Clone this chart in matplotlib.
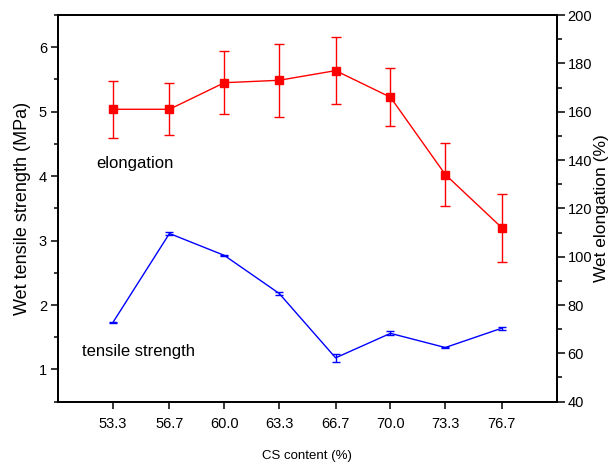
import matplotlib
matplotlib.use("Agg")
import matplotlib.pyplot as plt
from matplotlib.ticker import MultipleLocator

plt.rcParams['font.family'] = ['Liberation Sans', 'DejaVu Sans']

# CS content (%)
cs_content = [53.3, 56.7, 60.0, 63.3, 66.7, 70.0, 73.3, 76.7]

# wet tensile strength (MPa), left axis
strength = [1.73, 3.11, 2.77, 2.18, 1.18, 1.56, 1.34, 1.64]
strength_err = [0.012, 0.03, 0.012, 0.025, 0.06, 0.03, 0.008, 0.025]

# wet elongation (%), right axis
elongation = [161, 161, 172, 173, 177, 166, 134, 112]
elongation_err = [11.8, 10.8, 13.0, 15.0, 14.0, 12.0, 13.0, 14.0]

fig = plt.figure(figsize=(6.12, 4.63), dpi=100)
ax = fig.add_axes([0.095, 0.1325, 0.8145, 0.835])
ax2 = ax.twinx()

ax.errorbar(cs_content, strength, yerr=strength_err, color='#0000FF',
            linewidth=1, elinewidth=1, capsize=3, capthick=1)
ax2.errorbar(cs_content, elongation, yerr=elongation_err, color='#FF0000',
             linewidth=1, elinewidth=1, capsize=3.5, capthick=1,
             marker='s', markersize=6)

ax.set_xlim(50, 80)
ax.set_xticks(cs_content)
ax.set_xticklabels([f"{v:.1f}" for v in cs_content], fontsize=10.5)
ax.set_ylim(0.5, 6.5)
ax.yaxis.set_major_locator(MultipleLocator(1))
ax.yaxis.set_minor_locator(MultipleLocator(0.5))
ax2.set_ylim(40, 200)
ax2.yaxis.set_major_locator(MultipleLocator(20))
ax2.yaxis.set_minor_locator(MultipleLocator(10))

ax.set_yticks([1, 2, 3, 4, 5, 6])
ax.tick_params(axis='y', which='major', length=5, width=1.1, labelsize=10.5, pad=3)
ax.tick_params(axis='y', which='minor', length=3, width=1.1)
ax.tick_params(axis='x', length=5, width=1.1, pad=6)
ax2.tick_params(axis='y', which='major', length=6, width=1.1, labelsize=10.5, pad=2)
ax2.tick_params(axis='y', which='minor', length=3.5, width=1.1)

for a in (ax, ax2):
    for s in a.spines.values():
        s.set_linewidth(1.3)

ax.set_ylabel('Wet tensile strength (MPa)', fontsize=13, labelpad=6)
ax2.set_ylabel('Wet elongation (%)', fontsize=12.5, labelpad=1)
ax.set_xlabel('CS content (%)', fontsize=9.5, labelpad=14)

ax.text(52.3, 4.2, 'elongation', fontsize=12, va='center')
ax.text(51.45, 1.28, 'tensile strength', fontsize=12, va='center')

fig.savefig('out.png', dpi=100)
